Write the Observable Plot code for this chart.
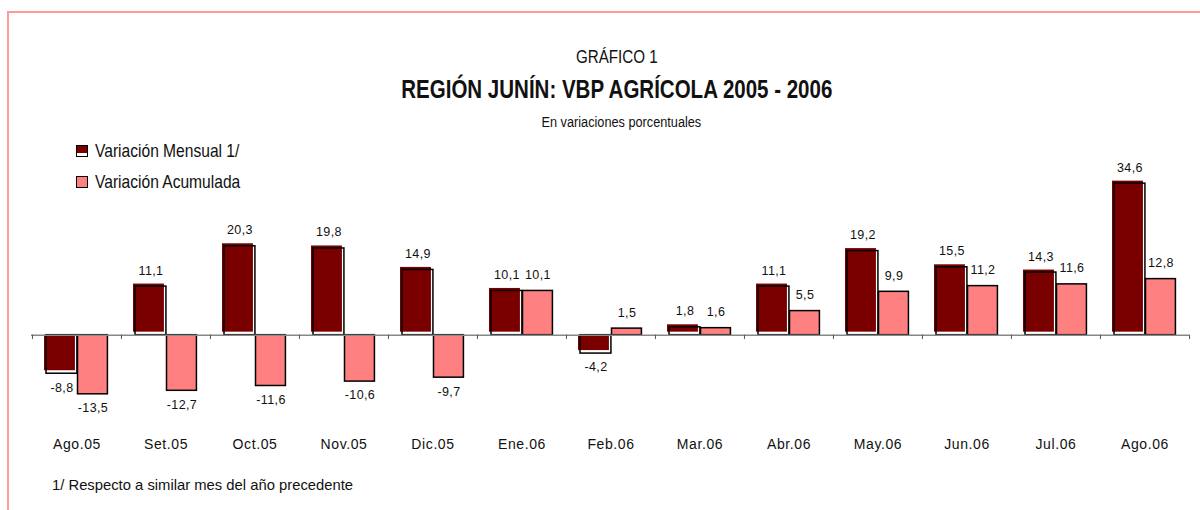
<!DOCTYPE html>
<html>
<head>
<meta charset="utf-8">
<script src="https://cdn.jsdelivr.net/npm/d3@7"></script>
<script src="https://cdn.jsdelivr.net/npm/@observablehq/plot@0.6"></script>
<style>
  html, body { margin: 0; padding: 0; background: #fff; }
  #wrap { position: relative; width: 1200px; height: 510px; overflow: hidden; background: #fff; font-family: "Liberation Sans", Arial, sans-serif; }
  #border-top { position: absolute; left: 7px; top: 11px; width: 1193px; height: 2px; background: #ff9a9a; }
  #border-left { position: absolute; left: 7px; top: 11px; width: 2px; height: 499px; background: #ff9a9a; }
  .t { position: absolute; left: 0; width: 1234px; text-align: center; color: #111; white-space: nowrap; line-height: 1; }
  .n { display: inline-block; transform: scaleX(0.82); transform-origin: center; }
  .nl { display: inline-block; transform: scaleX(0.82); transform-origin: left; }
  #g1 { top: 48px; font-size: 18.5px; }
  #title { top: 77px; font-size: 25px; font-weight: bold; }
  #sub { top: 114px; font-size: 15.5px; left: 4px; }
  .leg { position: absolute; left: 76px; font-size: 19px; color: #111; white-space: nowrap; line-height: 1; }
  .leg .box { position: absolute; left: 0; top: 0; width: 10px; height: 10px; border: 1.5px solid #000; }
  .leg span.lab { position: absolute; left: 19px; top: -4px; }
  #leg1 { top: 145px; }
  #leg2 { top: 176px; }
  #note { position: absolute; left: 52px; top: 478px; font-size: 14.8px; color: #111; white-space: nowrap; line-height: 1; }
  #chart { position: absolute; left: 0; top: 160px; }
  #chart svg g[aria-label="x-axis tick label"] text { letter-spacing: 0.6px; }
  #chart svg g[aria-label="text"] text { letter-spacing: 0.4px; }
</style>
</head>
<body>
<div id="wrap">
  <div id="border-top"></div>
  <div id="border-left"></div>
  <div class="t" id="g1"><span class="n">GRÁFICO 1</span></div>
  <div class="t" id="title"><span class="n">REGIÓN JUNÍN: VBP AGRÍCOLA 2005 - 2006</span></div>
  <div class="t" id="sub"><span class="n">En variaciones porcentuales</span></div>
  <div class="leg" id="leg1"><div class="box" style="background: linear-gradient(#7a0000 0, #7a0000 72%, #fff 72%);"></div><span class="lab nl" id="lab1"></span></div>
  <div class="leg" id="leg2"><div class="box" style="background:#ff8080;"></div><span class="lab nl" id="lab2"></span></div>
  <div id="chart"></div>
  <div id="note">1/ Respecto a similar mes del año precedente</div>
</div>
<script>
const categories = ["Ago.05","Set.05","Oct.05","Nov.05","Dic.05","Ene.06","Feb.06","Mar.06","Abr.06","May.06","Jun.06","Jul.06","Ago.06"];
const mensual = [-8.8, 11.1, 20.3, 19.8, 14.9, 10.1, -4.2, 1.8, 11.1, 19.2, 15.5, 14.3, 34.6];
const acumulada = [-13.5, -12.7, -11.6, -10.6, -9.7, 10.1, 1.5, 1.6, 5.5, 9.9, 11.2, 11.6, 12.8];
const seriesNames = ["Variación Mensual 1/", "Variación Acumulada"];
const colors = ["#7a0000", "#ff8080"];

document.getElementById("lab1").textContent = seriesNames[0];
document.getElementById("lab2").textContent = seriesNames[1];

const rowsM = categories.map((c, i) => ({cat: c, v: mensual[i]}));
const rowsA = categories.map((c, i) => ({cat: c, v: acumulada[i]}));
const loc = d3.formatLocale({decimal: ",", thousands: ".", grouping: [3], currency: ["", ""], minus: "-"});
const fmt = loc.format(".1f");

const W = 1200;
const band = (W - 31 - 11) / categories.length;
const dInL = 14, dInR = band - 45;
const aInL = 45.5, aInR = band - 75.5;
const dCx = (dInL + (band - dInR)) / 2 - band / 2;
const aCx = (aInL + (band - aInR)) / 2 - band / 2;

function labels(rows, dx) {
  return [
    Plot.text(rows.filter(d => d.v >= 0), {x: "cat", y: "v", text: d => fmt(d.v), dx, lineAnchor: "bottom", dy: -12, fontSize: 12.5, fill: "#111"}),
    Plot.text(rows.filter(d => d.v < 0), {x: "cat", y: "v", text: d => fmt(d.v), dx, lineAnchor: "top", dy: 9, fontSize: 12.5, fill: "#111"})
  ];
}

const pos = rowsM.filter(d => d.v >= 0), neg = rowsM.filter(d => d.v < 0);

const chart = Plot.plot({
  width: W,
  height: 300,
  marginLeft: 31,
  marginRight: 11,
  marginTop: 17,
  marginBottom: 64,
  style: {fontFamily: "'Liberation Sans', Arial, sans-serif", color: "#111", background: "transparent", overflow: "visible"},
  x: {domain: categories, padding: 0, label: null},
  y: {domain: [-14, 36], axis: null},
  marks: [
    Plot.barY(pos, {x: "cat", y: "v", fill: colors[0], insetLeft: dInL, insetRight: dInR, insetBottom: 0.5, dx: -2, dy: -2.5}),
    Plot.barY(neg, {x: "cat", y: "v", fill: colors[0], insetLeft: dInL, insetRight: dInR, insetBottom: 3, dx: -2}),
    Plot.barY(rowsM, {x: "cat", y: "v", fill: "none", stroke: "#000", strokeWidth: 1.5, insetLeft: dInL, insetRight: dInR}),
    Plot.barY(rowsA, {x: "cat", y: "v", fill: colors[1], stroke: "#000", strokeWidth: 1.5, insetLeft: aInL, insetRight: aInR}),
    Plot.ruleY([0], {stroke: "#888", strokeWidth: 1.5}),
    Plot.ruleX(categories, {x: d => d, y1: 0, y2: -1, dx: -band / 2, stroke: "#555"}),
    Plot.ruleX([categories[categories.length - 1]], {x: d => d, y1: 0, y2: -1, dx: band / 2, stroke: "#555"}),
    ...labels(rowsM, dCx),
    ...labels(rowsA, aCx),
    Plot.axisX({tickSize: 0, tickPadding: 43, fontSize: 14, label: null})
  ]
});
document.getElementById("chart").appendChild(chart);
</script>
</body>
</html>
